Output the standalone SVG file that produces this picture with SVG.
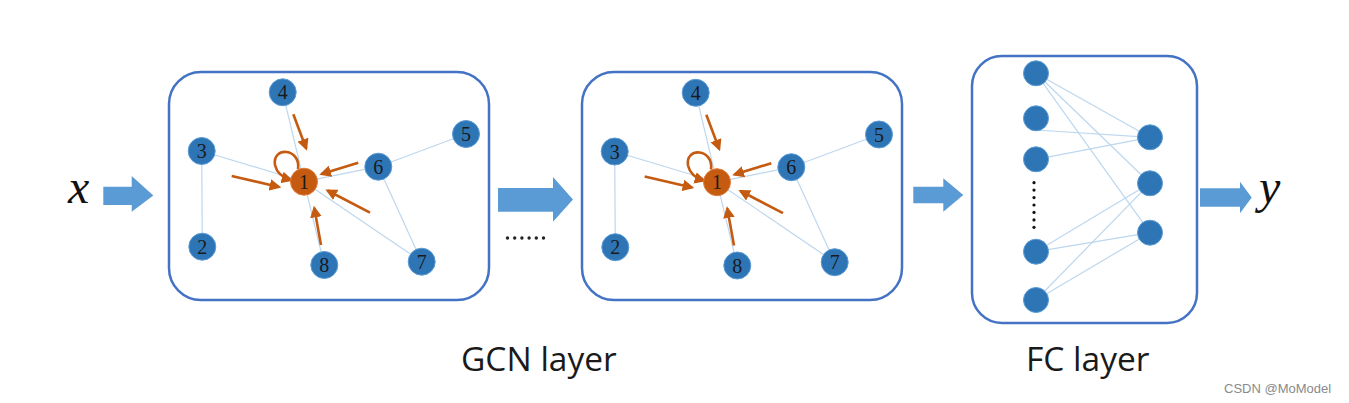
<svg xmlns="http://www.w3.org/2000/svg" width="1349" height="403" viewBox="0 0 1349 403">
<defs>
<style>
.box{fill:#fff;stroke:#4472c4;stroke-width:2.5}
.n{fill:#2e75b6;stroke:#5b9bd5;stroke-width:1}
.c{fill:#c55a11;stroke:#e07b39;stroke-width:1}
.lbl{font-family:"Liberation Serif",serif;font-size:20px;fill:#1a1a1a;text-anchor:middle}
.e{stroke:#bdd7ee;stroke-width:1.2;fill:none}
.oa{stroke:#c55a11;stroke-width:2.6;fill:none;marker-end:url(#ah)}
.ba{fill:#5b9bd5}
.cap{font-family:"Open Sans","Noto Sans",sans-serif;font-size:33.5px;fill:#1a1a1a}
.math{font-family:"Liberation Serif",serif;font-style:italic;font-size:48px;fill:#111}
</style>
<marker id="ah" viewBox="0 0 10 10" refX="8" refY="5" markerWidth="4.5" markerHeight="4.5" orient="auto" markerUnits="strokeWidth">
<path d="M0,0 L10,5 L0,10 z" fill="#c55a11"/>
</marker>
</defs>
<rect width="1349" height="403" fill="#fff"/>

<!-- Box 1 -->
<g id="gcn1">
<rect class="box" x="169" y="72" width="320" height="228" rx="32"/>
</g>
<g id="gcn1-edges">
<line class="e" x1="282.7" y1="92.3" x2="304" y2="181.7"/>
<line class="e" x1="201.7" y1="151" x2="304" y2="181.7"/>
<line class="e" x1="201.7" y1="151" x2="202.3" y2="246.7"/>
<line class="e" x1="378.3" y1="166.7" x2="466" y2="134"/>
<line class="e" x1="378.3" y1="166.7" x2="304" y2="181.7"/>
<line class="e" x1="378.3" y1="166.7" x2="421.7" y2="261.7"/>
<line class="e" x1="304" y1="181.7" x2="421.7" y2="261.7"/>
<line class="e" x1="304" y1="181.7" x2="324.3" y2="265"/>
<path class="oa" d="M293.3,114.3 L306.2,148.5"/>
<path class="oa" d="M231.7,176 L279,187"/>
<path class="oa" d="M358.3,162.7 L321.5,174"/>
<path class="oa" d="M370,212.7 L327.5,190.5"/>
<path class="oa" d="M321,245 L314.3,208"/>
<path class="oa" d="M298,169 C301,148 272,146 275,165 C277,174 284,178 291,180"/>
</g>
<g id="g1-n4"><circle class="n" cx="282.7" cy="92.3" r="13.5"/><text class="lbl" x="282.7" y="99.3">4</text></g>
<g id="g1-n5"><circle class="n" cx="466" cy="134" r="13.5"/><text class="lbl" x="466" y="141">5</text></g>
<g id="g1-n3"><circle class="n" cx="201.7" cy="151" r="13.5"/><text class="lbl" x="201.7" y="158">3</text></g>
<g id="g1-n6"><circle class="n" cx="378.3" cy="166.7" r="13.5"/><text class="lbl" x="378.3" y="173.7">6</text></g>
<g id="g1-n1"><circle class="c" cx="304" cy="181.7" r="13.5"/><text class="lbl" x="304" y="188.7">1</text></g>
<g id="g1-n2"><circle class="n" cx="202.3" cy="246.7" r="13.5"/><text class="lbl" x="202.3" y="253.7">2</text></g>
<g id="g1-n8"><circle class="n" cx="324.3" cy="265" r="13.5"/><text class="lbl" x="324.3" y="272">8</text></g>
<g id="g1-n7"><circle class="n" cx="421.7" cy="261.7" r="13.5"/><text class="lbl" x="421.7" y="268.7">7</text></g>

<!-- Box 2 -->
<g id="gcn2">
<rect class="box" x="582" y="72" width="320" height="228" rx="32"/>
</g>
<g id="gcn2-edges" transform="translate(413,0.5)">
<line class="e" x1="282.7" y1="92.3" x2="304" y2="181.7"/>
<line class="e" x1="201.7" y1="151" x2="304" y2="181.7"/>
<line class="e" x1="201.7" y1="151" x2="202.3" y2="246.7"/>
<line class="e" x1="378.3" y1="166.7" x2="466" y2="134"/>
<line class="e" x1="378.3" y1="166.7" x2="304" y2="181.7"/>
<line class="e" x1="378.3" y1="166.7" x2="421.7" y2="261.7"/>
<line class="e" x1="304" y1="181.7" x2="421.7" y2="261.7"/>
<line class="e" x1="304" y1="181.7" x2="324.3" y2="265"/>
<path class="oa" d="M293.3,114.3 L306.2,148.5"/>
<path class="oa" d="M231.7,176 L279,187"/>
<path class="oa" d="M358.3,162.7 L321.5,174"/>
<path class="oa" d="M370,212.7 L327.5,190.5"/>
<path class="oa" d="M321,245 L314.3,208"/>
<path class="oa" d="M298,169 C301,148 272,146 275,165 C277,174 284,178 291,180"/>
</g>
<g id="g2-n4"><circle class="n" cx="695.7" cy="92.8" r="13.5"/><text class="lbl" x="695.7" y="99.8">4</text></g>
<g id="g2-n5"><circle class="n" cx="879" cy="134.5" r="13.5"/><text class="lbl" x="879" y="141.5">5</text></g>
<g id="g2-n3"><circle class="n" cx="614.7" cy="151.5" r="13.5"/><text class="lbl" x="614.7" y="158.5">3</text></g>
<g id="g2-n6"><circle class="n" cx="791.3" cy="167.2" r="13.5"/><text class="lbl" x="791.3" y="174.2">6</text></g>
<g id="g2-n1"><circle class="c" cx="717" cy="182.2" r="13.5"/><text class="lbl" x="717" y="189.2">1</text></g>
<g id="g2-n2"><circle class="n" cx="615.3" cy="247.2" r="13.5"/><text class="lbl" x="615.3" y="254.2">2</text></g>
<g id="g2-n8"><circle class="n" cx="737.3" cy="265.5" r="13.5"/><text class="lbl" x="737.3" y="272.5">8</text></g>
<g id="g2-n7"><circle class="n" cx="834.7" cy="262.2" r="13.5"/><text class="lbl" x="834.7" y="269.2">7</text></g>

<!-- FC box -->
<g id="fc">
<rect class="box" x="972" y="56" width="225" height="267" rx="30"/>
</g>
<g id="fc-edges">
<line class="e" x1="1036" y1="73.3" x2="1150" y2="137.3"/>
<line class="e" x1="1036" y1="73.3" x2="1150" y2="183.3"/>
<line class="e" x1="1036" y1="73.3" x2="1150" y2="232.7"/>
<line class="e" x1="1036" y1="130" x2="1150" y2="137.3"/>
<line class="e" x1="1036" y1="159.3" x2="1150" y2="137.3"/>
<line class="e" x1="1036" y1="251.7" x2="1150" y2="183.3"/>
<line class="e" x1="1036" y1="251.7" x2="1150" y2="232.7"/>
<line class="e" x1="1036" y1="300" x2="1150" y2="183.3"/>
<line class="e" x1="1036" y1="300" x2="1150" y2="232.7"/>
</g>
<g id="fc-in1"><circle class="n" cx="1036" cy="73.3" r="12.5"/></g>
<g id="fc-in2"><circle class="n" cx="1036" cy="118.3" r="12.5"/></g>
<g id="fc-in3"><circle class="n" cx="1036" cy="159.3" r="12.5"/></g>
<g id="fc-dots" fill="#111">
<circle cx="1034" cy="182.7" r="1.6"/><circle cx="1034" cy="190.1" r="1.6"/><circle cx="1034" cy="197.6" r="1.6"/><circle cx="1034" cy="205" r="1.6"/><circle cx="1034" cy="212.4" r="1.6"/><circle cx="1034" cy="219.9" r="1.6"/><circle cx="1034" cy="227.3" r="1.6"/>
</g>
<g id="fc-in4"><circle class="n" cx="1036" cy="251.7" r="12.5"/></g>
<g id="fc-in5"><circle class="n" cx="1036" cy="300" r="12.5"/></g>
<g id="fc-out1"><circle class="n" cx="1150" cy="137.3" r="12.5"/></g>
<g id="fc-out2"><circle class="n" cx="1150" cy="183.3" r="12.5"/></g>
<g id="fc-out3"><circle class="n" cx="1150" cy="232.7" r="12.5"/></g>

<!-- block arrows -->
<g id="arrows">
<path class="ba" d="M103.3,186.7 H131.7 V176 L153.3,195.5 L131.7,211.7 V205 H103.3 z"/>
<path class="ba" d="M498,188 H553 V177 L573,199.5 L553,221.7 V211.7 H498 z"/>
<path class="ba" d="M913.3,186.7 H943.3 V178.3 L963.3,195 L943.3,211.7 V203.3 H913.3 z"/>
<path class="ba" d="M1200,188.3 H1240 V181.7 L1251.7,197.5 L1240,213.3 V206.7 H1200 z"/>
</g>
<g id="ellipsis" fill="#222">
<circle cx="507.5" cy="238" r="1.7"/><circle cx="514.7" cy="238" r="1.7"/><circle cx="521.9" cy="238" r="1.7"/><circle cx="529.1" cy="238" r="1.7"/><circle cx="536.3" cy="238" r="1.7"/><circle cx="543.5" cy="238" r="1.7"/>
</g>
<g id="x"><text class="math" x="68" y="203">x</text></g>
<g id="y"><text class="math" x="1259" y="203">y</text></g>
<text class="cap" x="461" y="371">GCN layer</text>
<text class="cap" x="1026" y="371">FC layer</text>
<text x="1224" y="393" font-family="Liberation Sans,Arial,sans-serif" font-size="13" fill="#8a8a8a">CSDN @MoModel</text>
</svg>
